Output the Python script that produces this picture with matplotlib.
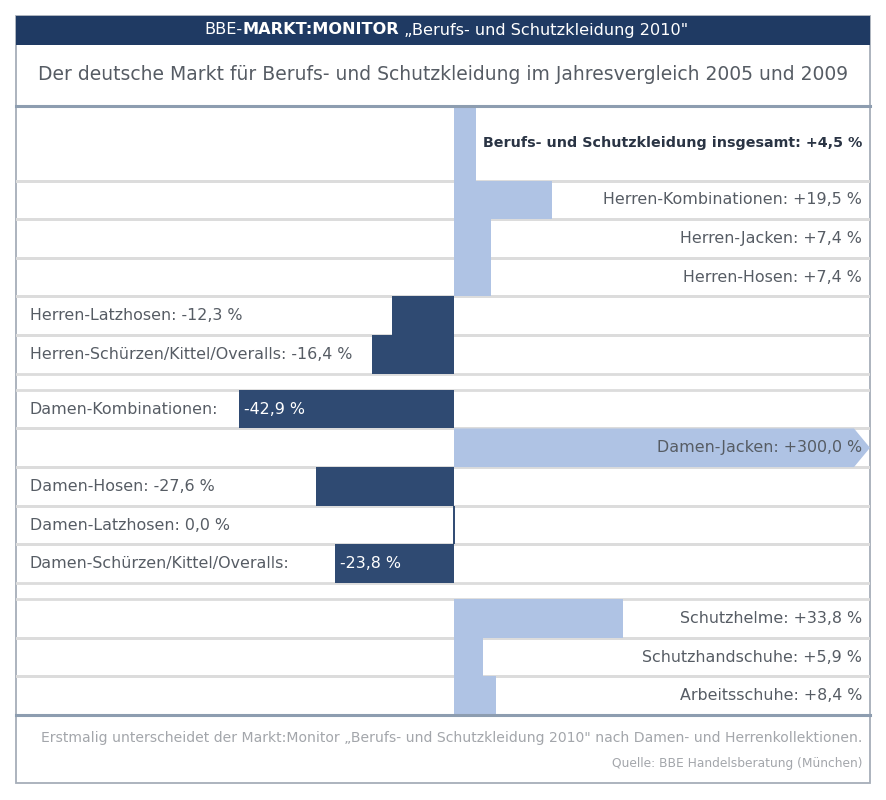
import numpy as np
import matplotlib
matplotlib.use("Agg")
import matplotlib.pyplot as plt
from matplotlib.patches import Rectangle, Polygon

# ---- data --------------------------------------------------------------
categories = [
    "Berufs- und Schutzkleidung insgesamt",
    "Herren-Kombinationen",
    "Herren-Jacken",
    "Herren-Hosen",
    "Herren-Latzhosen",
    "Herren-Schürzen/Kittel/Overalls",
    "Damen-Kombinationen",
    "Damen-Jacken",
    "Damen-Hosen",
    "Damen-Latzhosen",
    "Damen-Schürzen/Kittel/Overalls",
    "Schutzhelme",
    "Schutzhandschuhe",
    "Arbeitsschuhe",
]
values = [4.5, 19.5, 7.4, 7.4, -12.3, -16.4, -42.9, 300.0, -27.6, 0.0, -23.8, 33.8, 5.9, 8.4]

header_parts = ["BBE-", "MARKT:MONITOR", " „Berufs- und Schutzkleidung 2010\""]
title = "Der deutsche Markt für Berufs- und Schutzkleidung im Jahresvergleich 2005 und 2009"
note = ("Erstmalig unterscheidet der Markt:Monitor „Berufs- und Schutzkleidung 2010\" "
        "nach Damen- und Herrenkollektionen.")
source = "Quelle: BBE Handelsberatung (München)"

# ---- layout / style ----------------------------------------------------
W, H = 886, 800
NAVY = "#1f3a63"
DARK_BAR = "#2f4a72"
LIGHT_BAR = "#afc3e4"
TEXT = "#565c64"
SEP = "#dcdcdc"
RULE = "#8d9db0"
FRAME = "#a6aeb9"

first_row_h = 1.93
gap_h = 0.42
gap_after = [5, 10]        # blank spacer rows after these indices
px_per_pct = 5.0
zero_px = 454


def fx(px):
    return px / W


def fy(px):
    return 1 - px / H


def fmt(v):
    s = f"{v:.1f}".replace(".", ",")
    return ("+" + s if v > 0 else s) + " %"


fig = plt.figure(figsize=(W / 100, H / 100), dpi=100)
fig.patch.set_facecolor("white")

# outer frame + header bar
fig.add_artist(Rectangle((fx(16), fy(783)), fx(870) - fx(16), fy(16) - fy(783),
                         transform=fig.transFigure, facecolor="white",
                         edgecolor=FRAME, lw=1.3, zorder=0))
fig.add_artist(Rectangle((fx(16), fy(45)), fx(870) - fx(16), fy(16) - fy(45),
                         transform=fig.transFigure, facecolor=NAVY,
                         edgecolor="none", zorder=1))

# title and horizontal rules
fig.text(fx(443), fy(74), title, ha="center", va="center", fontsize=13.5, color=TEXT)
for ypx in (106, 715):
    fig.add_artist(plt.Line2D([fx(16), fx(870)], [fy(ypx), fy(ypx)],
                              transform=fig.transFigure, color=RULE, lw=2.2, zorder=3))

# ---- chart axes --------------------------------------------------------
ax = fig.add_axes([fx(16), fy(715), fx(870) - fx(16), fy(106) - fy(715)])
ax.set_xlim((16 - zero_px) / px_per_pct, (870 - zero_px) / px_per_pct)
xmin, xmax = ax.get_xlim()

# row edges
edges = []
y = 0.0
for i in range(len(categories)):
    h = first_row_h if i == 0 else 1.0
    edges.append((y, y + h))
    y += h
    if i in gap_after:
        y += gap_h
total = y
ax.set_ylim(total, 0)
ax.axis("off")

# separators
for i, (top, bot) in enumerate(edges):
    for yy in (top, bot):
        if 0 < yy < total:
            ax.axhline(yy, color=SEP, lw=2, zorder=1)

fig.canvas.draw()
renderer = fig.canvas.get_renderer()
pad_l = 14 / (W - 32) * (xmax - xmin)      # left text inset
pad_r = 8 / (W - 32) * (xmax - xmin)       # right text inset

for i, (cat, v) in enumerate(zip(categories, values)):
    top, bot = edges[i]
    yc = (top + bot) / 2
    h = bot - top
    if v > xmax:
        tip = 3.2
        ax.add_patch(Polygon([(0, top), (xmax - tip, top), (xmax, yc),
                              (xmax - tip, bot), (0, bot)],
                             closed=True, facecolor=LIGHT_BAR, edgecolor="none",
                             zorder=2, clip_on=False))
    elif v == 0:
        ax.vlines(0, top, bot, color=DARK_BAR, lw=1.4, zorder=2)
    else:
        ax.barh(yc, v, height=h, left=0, color=LIGHT_BAR if v > 0 else DARK_BAR,
                edgecolor="none", zorder=2)

    if i == 0:
        ax.text(xmax - pad_r, yc, f"{cat}: {fmt(v)}", ha="right", va="center",
                fontsize=10.25, fontweight="bold", color="#2a3444", zorder=4)
    elif v > 0:
        ax.text(xmax - pad_r, yc, f"{cat}: {fmt(v)}", ha="right", va="center",
                fontsize=11.4, color=TEXT, zorder=4)
    else:
        t = ax.text(xmin + pad_l, yc, f"{cat}: {fmt(v)}", ha="left", va="center",
                    fontsize=11.4, color=TEXT, zorder=4)
        bb = t.get_window_extent(renderer).transformed(ax.transData.inverted())
        if v < 0 and bb.x1 > v - 1:
            # label would run into the bar: value goes inside in white
            t.set_text(f"{cat}:")
            ax.text(v + 1.0, yc, fmt(v), ha="left", va="center",
                    fontsize=11.4, color="white", zorder=4)

# header text with bold middle part
parts = []
for j, p in enumerate(header_parts):
    parts.append(fig.text(0, fy(30), p, ha="left", va="center", fontsize=11.6,
                          color="white", fontweight="bold" if j == 1 else "normal",
                          zorder=5))
fig.canvas.draw()
widths = [p.get_window_extent(renderer).width for p in parts]
x0 = 446 - sum(widths) / 2
for p, w in zip(parts, widths):
    p.set_x(fx(x0))
    x0 += w

# footer
fig.text(fx(862), fy(738), note, ha="right", va="center", fontsize=10.1, color="#a3a6ab")
fig.text(fx(862), fy(763), source, ha="right", va="center", fontsize=8.8, color="#a3a6ab")

fig.savefig("out.png", dpi=100, facecolor="white")
